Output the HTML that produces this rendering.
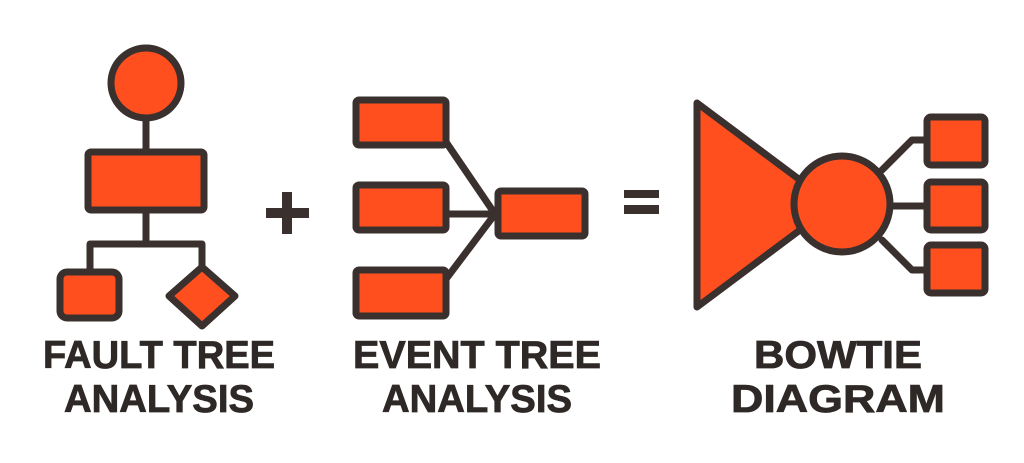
<!DOCTYPE html>
<html><head><meta charset="utf-8"><style>
html,body{margin:0;padding:0;background:#fff;}
svg{display:block;}
text{font-family:"Liberation Sans",sans-serif;font-weight:bold;font-size:39px;fill:#2e2826;stroke:#2e2826;stroke-width:0.8px;}
</style></head><body>
<svg width="1024" height="463" viewBox="0 0 1024 463" xmlns="http://www.w3.org/2000/svg">
<g stroke="#3a302e" stroke-width="7" fill="#ff4f1f" stroke-linejoin="round" stroke-linecap="round">
<!-- Fault tree -->
<line x1="146" y1="119" x2="146" y2="152" fill="none"/>
<circle cx="146" cy="83" r="35"/>
<rect x="88" y="152" width="116" height="58" rx="3"/>
<polyline points="146,210 146,244" fill="none"/>
<polyline points="90,272 90,244 202,244 202,267" fill="none"/>
<rect x="60" y="272" width="59" height="46" rx="7"/>
<polygon points="202,267 235,296 202,326 169,296"/>
<!-- Event tree -->
<line x1="446" y1="142" x2="495" y2="214" fill="none"/>
<line x1="446" y1="214" x2="495" y2="214" fill="none"/>
<line x1="446" y1="279" x2="495" y2="214" fill="none"/>
<rect x="356" y="100" width="90" height="45" rx="3"/>
<rect x="356" y="185" width="90" height="45" rx="3"/>
<rect x="356" y="270" width="90" height="46" rx="3"/>
<rect x="498" y="191" width="87" height="45" rx="3"/>
<!-- Bowtie -->
<polyline points="882,170 912,140 927,140" fill="none"/>
<line x1="885" y1="206" x2="927" y2="206" fill="none"/>
<polyline points="882,240 912,270 927,270" fill="none"/>
<polygon points="697,103 800,180 800,230 697,307"/>
<circle cx="842" cy="204" r="48"/>
<rect x="927" y="117" width="58" height="48" rx="4"/>
<rect x="927" y="182" width="58" height="48" rx="4"/>
<rect x="927" y="245" width="58" height="48" rx="4"/>
</g>
<!-- plus & equals -->
<g fill="#3a302e">
<rect x="266" y="208" width="43" height="10"/>
<rect x="282" y="192" width="10" height="42"/>
<rect x="624" y="190" width="35" height="8"/>
<rect x="624" y="205" width="35" height="9"/>
</g>
<text x="159" y="368" text-anchor="middle" textLength="232" lengthAdjust="spacingAndGlyphs">FAULT TREE</text>
<text x="159" y="412" text-anchor="middle" textLength="190" lengthAdjust="spacingAndGlyphs">ANALYSIS</text>
<text x="477" y="368" text-anchor="middle" textLength="248" lengthAdjust="spacingAndGlyphs">EVENT TREE</text>
<text x="477" y="412" text-anchor="middle" textLength="190" lengthAdjust="spacingAndGlyphs">ANALYSIS</text>
<text x="838" y="368" text-anchor="middle" textLength="168" lengthAdjust="spacingAndGlyphs">BOWTIE</text>
<text x="838" y="412" text-anchor="middle" textLength="214" lengthAdjust="spacingAndGlyphs">DIAGRAM</text>
</svg>
</body></html>
